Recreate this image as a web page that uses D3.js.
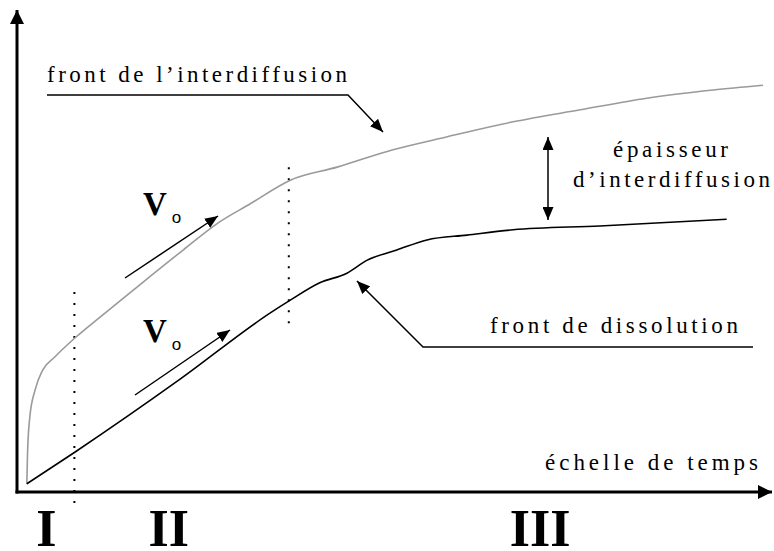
<!DOCTYPE html>
<html>
<head>
<meta charset="utf-8">
<script src="https://cdn.jsdelivr.net/npm/d3@7"></script>
<style>
  html, body { margin: 0; padding: 0; background: #fff; }
  svg { display: block; }
</style>
</head>
<body>
<div id="chart"></div>
<script>
// schematic: time (x) vs position (y), arbitrary units 0..100
const interdiffX = [1.3, 1.4, 1.7, 2.4, 3.4, 5.0, 7.7, 11.0, 15.4, 22.0, 26.6, 30.9, 36.2, 42.4, 49.8, 57.0, 65.7, 74.6, 83.4, 92.2, 98.8];
const interdiffY = [1.7, 8.3, 15.6, 21.2, 25.3, 28.0, 32.0, 36.3, 41.9, 50.2, 55.8, 59.8, 64.7, 67.4, 71.0, 73.7, 76.8, 79.3, 81.7, 83.4, 84.4];

const dissolX = [1.3, 7.7, 21.6, 33.5, 36.2, 40.1, 43.7, 46.4, 50.3, 54.3, 59.6, 65.7, 77.2, 94.0];
const dissolY = [1.7, 8.3, 23.4, 37.1, 39.8, 43.4, 45.4, 48.1, 50.2, 52.3, 53.3, 54.4, 55.2, 56.6];

// phase boundaries (time) and their labels
const phaseBounds = [7.6, 36.0];
const phaseLabels = ["I", "II", "III"];
const phaseCenters = [3.9, 20.1, 69.3];

const w = 774, h = 551;
const serif = "'Liberation Serif', 'Times New Roman', 'DejaVu Serif', serif";

const x = d3.scaleLinear().domain([0, 100]).range([17, 772]);
const y = d3.scaleLinear().domain([0, 100]).range([492, 10]);

const svg = d3.select("#chart").append("svg")
  .attr("xmlns", "http://www.w3.org/2000/svg")
  .attr("width", w)
  .attr("height", h);

svg.append("rect").attr("width", w).attr("height", h).attr("fill", "#fff");

const defs = svg.append("defs");
function marker(id, len, wid) {
  defs.append("marker")
    .attr("id", id)
    .attr("markerUnits", "userSpaceOnUse")
    .attr("viewBox", `0 ${-wid / 2} ${len} ${wid}`)
    .attr("refX", len).attr("refY", 0)
    .attr("markerWidth", len).attr("markerHeight", wid)
    .attr("orient", "auto-start-reverse")
    .append("path")
      .attr("d", `M0,${-wid / 2}L${len},0L0,${wid / 2}Z`)
      .attr("fill", "#000");
}
marker("head", 13, 11);
marker("axhead", 14, 14);

// axes
svg.append("line")
  .attr("x1", x(0)).attr("y1", y(0) + 1.5)
  .attr("x2", x(0)).attr("y2", y(100))
  .attr("stroke", "#000").attr("stroke-width", 3)
  .attr("marker-end", "url(#axhead)");
svg.append("line")
  .attr("x1", x(0) - 1.5).attr("y1", y(0))
  .attr("x2", x(100)).attr("y2", y(0))
  .attr("stroke", "#000").attr("stroke-width", 3)
  .attr("marker-end", "url(#axhead)");

// phase boundaries (dotted)
const dotSpans = [[-3.7, 41.5], [34.0, 67.4]];
svg.selectAll("line.phase")
  .data(phaseBounds)
  .enter().append("line")
    .attr("class", "phase")
    .attr("x1", d => x(d)).attr("x2", d => x(d))
    .attr("y1", (d, i) => y(dotSpans[i][1]))
    .attr("y2", (d, i) => y(dotSpans[i][0]))
    .attr("stroke", "#000").attr("stroke-width", 2)
    .attr("stroke-dasharray", "2,9");

// curves
const line = d3.line()
  .x(d => x(d[0])).y(d => y(d[1]))
  .curve(d3.curveMonotoneX);

svg.append("path")
  .datum(d3.zip(interdiffX, interdiffY))
  .attr("d", line)
  .attr("fill", "none").attr("stroke", "#9a9a9a").attr("stroke-width", 1.6);

svg.append("path")
  .datum(d3.zip(dissolX, dissolY))
  .attr("d", line)
  .attr("fill", "none").attr("stroke", "#000").attr("stroke-width", 1.6);

// phase labels
svg.selectAll("text.phase")
  .data(phaseLabels)
  .enter().append("text")
    .attr("class", "phase")
    .attr("x", (d, i) => x(phaseCenters[i]))
    .attr("y", 546)
    .attr("text-anchor", "middle")
    .attr("font-family", serif)
    .attr("font-size", 52)
    .attr("font-weight", "bold")
    .text(d => d);

// annotation arrows
function arrow(pts, both) {
  svg.append("path")
    .attr("d", d3.line()(pts))
    .attr("fill", "none").attr("stroke", "#000").attr("stroke-width", 1.5)
    .attr("marker-end", "url(#head)")
    .attr("marker-start", both ? "url(#head)" : null);
}
arrow([[47, 95], [348, 95], [383, 132]]);
arrow([[753, 347], [423, 347], [357, 281]]);
arrow([[548, 137], [548, 220]], true);
arrow([[125, 278], [218, 216]]);
arrow([[135, 395], [230, 330]]);

// labels
function label(t, px, py, len) {
  svg.append("text")
    .attr("x", px).attr("y", py)
    .attr("textLength", len).attr("lengthAdjust", "spacing")
    .attr("font-family", serif)
    .attr("font-size", 23)
    .text(t);
}
label("front de l\u2019interdiffusion", 47, 82, 300);
label("épaisseur", 613, 157, 115);
label("d\u2019interdiffusion", 573, 187, 197);
label("front de dissolution", 490, 333, 248);
label("échelle de temps", 545, 470, 213);

// V0 labels
[[143, 215], [143, 342]].forEach(p => {
  const t = svg.append("text").attr("x", p[0]).attr("y", p[1])
    .attr("font-family", serif);
  t.append("tspan")
    .attr("font-size", 33).attr("font-weight", "bold")
    .text("V");
  t.append("tspan")
    .attr("dx", 5).attr("dy", 8)
    .attr("font-family", "'Liberation Sans', Arial, sans-serif")
    .attr("font-size", 17)
    .text("o");
});
</script>
</body>
</html>
